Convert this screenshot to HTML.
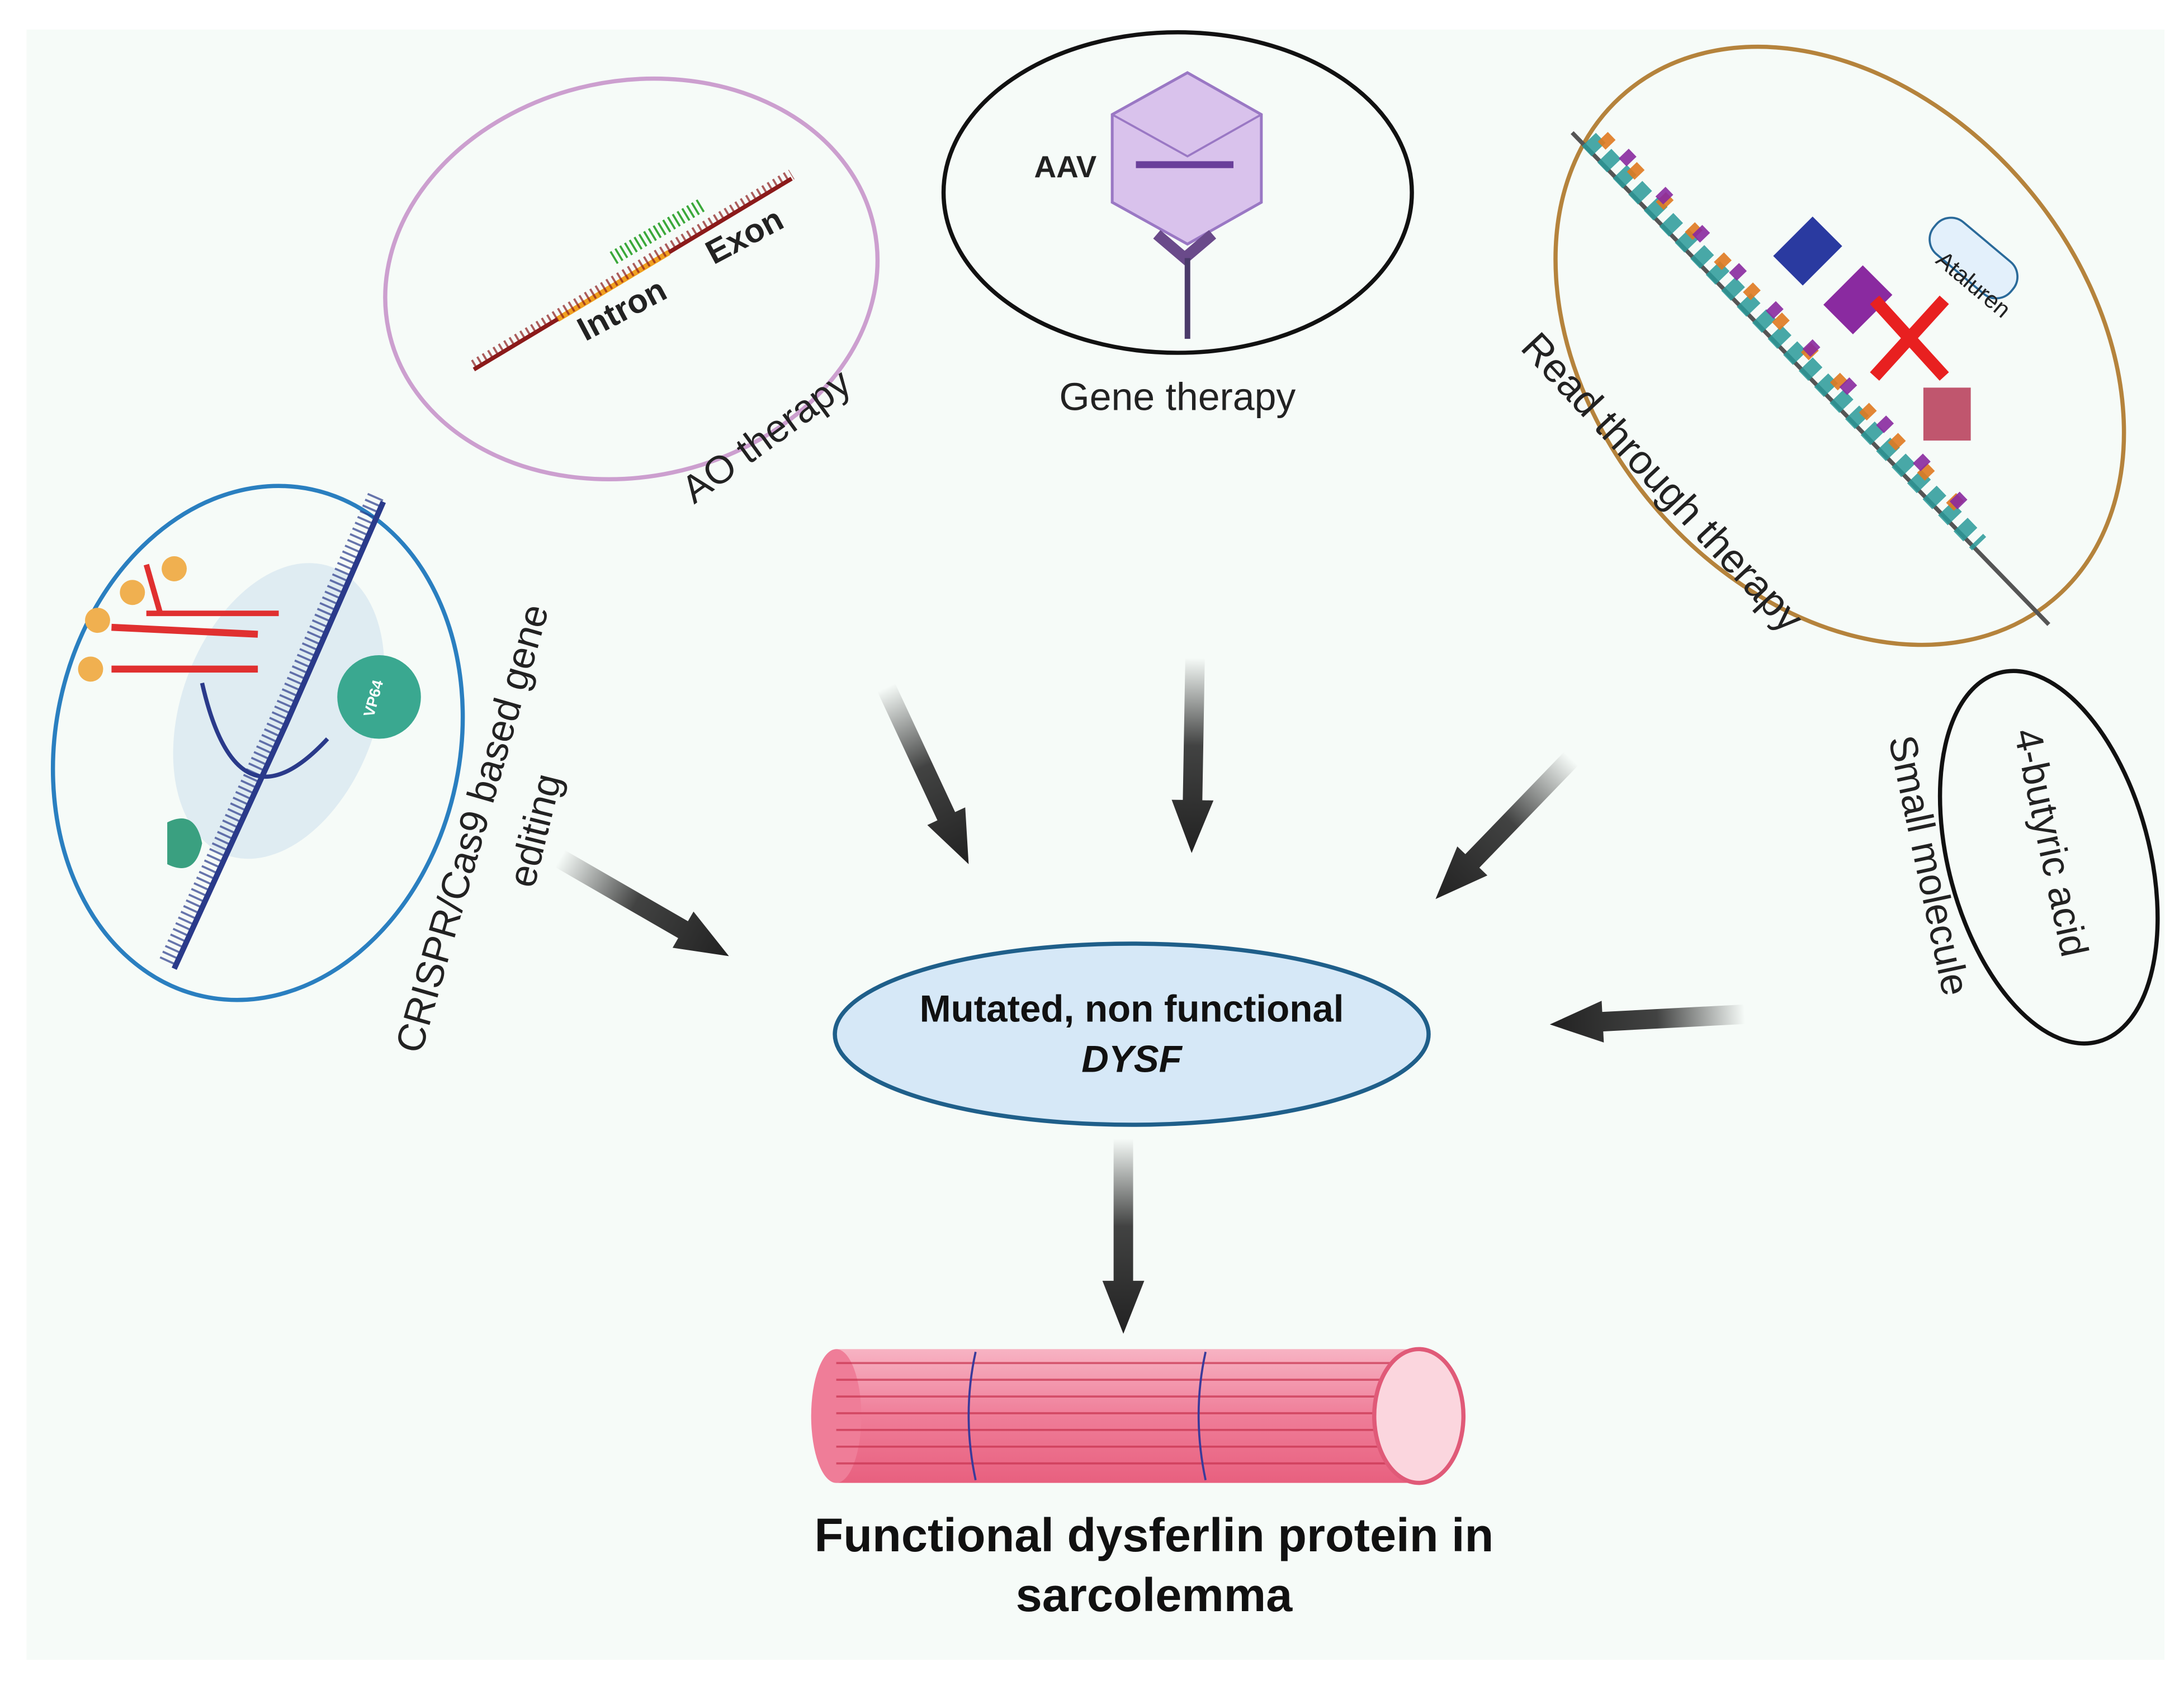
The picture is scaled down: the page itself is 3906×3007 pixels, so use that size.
<!DOCTYPE html>
<html><head><meta charset="utf-8"><style>
html,body{margin:0;padding:0;background:#fff;width:3906px;height:3007px;overflow:hidden}
svg{display:block}
text{font-family:"Liberation Sans",sans-serif}
</style></head><body>
<svg width="3906" height="3007" viewBox="0 0 1567 1206" xmlns="http://www.w3.org/2000/svg">
<defs>
<linearGradient id="ag" x1="0" y1="0" x2="1" y2="0">
<stop offset="0" stop-color="#222" stop-opacity="0"/>
<stop offset="0.45" stop-color="#222" stop-opacity="0.85"/>
<stop offset="1" stop-color="#222"/>
</linearGradient>
<linearGradient id="mg" x1="0" y1="0" x2="0" y2="1">
<stop offset="0" stop-color="#f7b3c3"/><stop offset="0.5" stop-color="#ef7d98"/><stop offset="1" stop-color="#e8607f"/>
</linearGradient>
<g id="arr"><polygon points="-38,-7 -38,-15 0,0 -38,15 -38,7 -140,7 -140,-7" fill="url(#ag)"/></g>
</defs>
<rect x="19" y="21" width="1534" height="1170" fill="#f6fbf8"/>

<!-- AO ellipse -->
<ellipse cx="453" cy="200" rx="178" ry="142" transform="rotate(-12 453 200)" fill="none" stroke="#cc9fcf" stroke-width="3"/>
<line x1="340" y1="265" x2="568" y2="128" stroke="#8b1a1a" stroke-width="3"/>
<line x1="400" y1="229" x2="480" y2="181" stroke="#f0a020" stroke-width="4"/>
<line x1="440" y1="185" x2="505" y2="146" stroke="#3aa83a" stroke-width="10" stroke-dasharray="1.5 2.5"/>
<line x1="340" y1="262" x2="568" y2="125" stroke="#8b1a1a" stroke-width="8" stroke-dasharray="1.5 3" opacity=".7"/>
<text x="0" y="0" transform="translate(420 245) rotate(-28)" font-size="24" font-weight="bold" fill="#222">Intron</text>
<text x="0" y="0" transform="translate(512 190) rotate(-28)" font-size="24" font-weight="bold" fill="#222">Exon</text>
<text x="0" y="0" transform="translate(498 362) rotate(-36)" font-size="28" fill="#222">AO therapy</text>

<!-- Gene therapy -->
<ellipse cx="845" cy="138" rx="168" ry="115" fill="none" stroke="#111" stroke-width="3"/>
<polygon points="852,52 905,82 905,145 852,175 798,145 798,82" fill="#d9c2ec" stroke="#9a78c4" stroke-width="2"/>
<polyline points="798,82 852,112 905,82 M852,112 852,175" fill="none" stroke="#9a78c4" stroke-width="1.5"/>
<line x1="815" y1="118" x2="885" y2="118" stroke="#6a3f9a" stroke-width="5"/>
<path d="M830 168 L850 185 L870 168" fill="none" stroke="#6a4a8a" stroke-width="8"/>
<line x1="852" y1="185" x2="852" y2="243" stroke="#4a3a6a" stroke-width="4"/>
<text x="742" y="127" font-size="22" font-weight="bold" fill="#222">AAV</text>
<text x="760" y="294" font-size="28" fill="#222">Gene therapy</text>

<!-- Read through -->
<ellipse cx="1320" cy="248" rx="238" ry="176" transform="rotate(50 1320 248)" fill="none" stroke="#b5833c" stroke-width="3"/>
<line x1="1128" y1="95" x2="1470" y2="448" stroke="#555" stroke-width="3"/>
<line x1="1140" y1="100" x2="1420" y2="390" stroke="#2a9a9a" stroke-width="14" stroke-dasharray="10 6" opacity=".85"/>
<line x1="1150" y1="98" x2="1420" y2="378" stroke="#e07a20" stroke-width="10" stroke-dasharray="8 22" opacity=".9"/>
<line x1="1165" y1="110" x2="1410" y2="364" stroke="#8a2aa0" stroke-width="10" stroke-dasharray="8 30" opacity=".9"/>
<rect x="1282" y="160" width="30" height="40" fill="#2a3aa0" transform="rotate(45 1297 180)"/>
<rect x="1318" y="195" width="30" height="40" fill="#8a2aa0" transform="rotate(45 1333 215)"/>
<rect x="1380" y="278" width="34" height="38" fill="#c0566e"/>
<line x1="1345" y1="215" x2="1395" y2="270" stroke="#e82020" stroke-width="9"/>
<line x1="1395" y1="215" x2="1345" y2="270" stroke="#e82020" stroke-width="9"/>
<rect x="1380" y="170" width="72" height="30" rx="14" fill="#e3f0fb" stroke="#2a6a9a" stroke-width="1.5" transform="rotate(40 1416 185)"/>
<text x="0" y="0" transform="translate(1388 188) rotate(40)" font-size="17" fill="#222">Ataluren</text>
<text x="0" y="0" transform="translate(1090 250) rotate(47)" font-size="29" fill="#222">Read through therapy</text>

<!-- CRISPR -->
<ellipse cx="185" cy="533" rx="145" ry="186" transform="rotate(12 185 533)" fill="none" stroke="#2a7fc0" stroke-width="3"/>
<ellipse cx="200" cy="510" rx="70" ry="110" transform="rotate(20 200 510)" fill="#d5e6ef" opacity=".7"/>
<path d="M125 695 L205 520 L275 360" fill="none" stroke="#2a3a8a" stroke-width="4"/>
<path d="M120 690 L200 515 L270 355" fill="none" stroke="#2a3a8a" stroke-width="12" stroke-dasharray="1.5 3" opacity=".7"/>
<path d="M145 490 Q170 600 235 530" fill="none" stroke="#2a3a8a" stroke-width="3"/>
<circle cx="272" cy="500" r="30" fill="#3aa890"/>
<text x="0" y="0" transform="translate(268 515) rotate(-75)" font-size="11" font-weight="bold" fill="#fff">VP64</text>
<path d="M120 590 q20 -10 25 15 q-5 25 -25 15 z" fill="#3aa080"/>
<path d="M80 450 L185 455 M80 480 L185 480" stroke="#e03030" stroke-width="5" fill="none"/>
<path d="M105 405 L115 440 M105 440 L200 440" stroke="#e03030" stroke-width="4" fill="none"/>
<circle cx="125" cy="408" r="9" fill="#f0b050"/><circle cx="95" cy="425" r="9" fill="#f0b050"/>
<circle cx="70" cy="445" r="9" fill="#f0b050"/><circle cx="65" cy="480" r="9" fill="#f0b050"/>
<text x="0" y="0" transform="translate(302 757) rotate(-74)" font-size="28" fill="#222">CRISPR/Cas9 based gene</text>
<text x="0" y="0" transform="translate(383 638) rotate(-76)" font-size="28" fill="#222">editing</text>

<!-- Small molecule -->
<ellipse cx="1470" cy="615" rx="72" ry="137" transform="rotate(-15 1470 615)" fill="none" stroke="#111" stroke-width="3"/>
<text x="0" y="0" transform="translate(1445 525) rotate(78)" font-size="28" fill="#222">4-butyric acid</text>
<text x="0" y="0" transform="translate(1355 530) rotate(78)" font-size="28" fill="#222">Small molecule</text>

<!-- Arrows -->
<use href="#arr" transform="translate(523 686) rotate(30)"/>
<use href="#arr" transform="translate(695 620) rotate(65)"/>
<use href="#arr" transform="translate(855 612) rotate(91)"/>
<use href="#arr" transform="translate(1030 645) rotate(134)"/>
<use href="#arr" transform="translate(1112 735) rotate(177)"/>
<use href="#arr" transform="translate(806 957) rotate(90)"/>

<!-- Central -->
<ellipse cx="812" cy="742" rx="213" ry="65" fill="#d6e8f7" stroke="#1f5f8a" stroke-width="3"/>
<text x="812" y="733" font-size="27" font-weight="bold" text-anchor="middle" fill="#111">Mutated, non functional</text>
<text x="812" y="769" font-size="27" font-weight="bold" font-style="italic" text-anchor="middle" fill="#111">DYSF</text>

<!-- Muscle -->
<rect x="600" y="968" width="420" height="96" fill="url(#mg)"/>
<ellipse cx="600" cy="1016" rx="18" ry="48" fill="#ef7d98"/>
<g stroke="#c8334f" stroke-width="1.5" opacity=".7">
<line x1="600" y1="978" x2="1015" y2="978"/><line x1="600" y1="990" x2="1015" y2="990"/>
<line x1="600" y1="1002" x2="1015" y2="1002"/><line x1="600" y1="1014" x2="1015" y2="1014"/>
<line x1="600" y1="1026" x2="1015" y2="1026"/><line x1="600" y1="1038" x2="1015" y2="1038"/>
<line x1="600" y1="1050" x2="1015" y2="1050"/>
</g>
<path d="M700 970 q-10 45 0 92 M865 970 q-10 45 0 92" stroke="#3a3a9a" stroke-width="1.5" fill="none"/>
<ellipse cx="1018" cy="1016" rx="32" ry="48" fill="#fbd6de" stroke="#e05a78" stroke-width="3"/>
<text x="828" y="1113" font-size="34" font-weight="bold" text-anchor="middle" fill="#111">Functional dysferlin protein in</text>
<text x="828" y="1156" font-size="34" font-weight="bold" text-anchor="middle" fill="#111">sarcolemma</text>
</svg>
</body></html>
